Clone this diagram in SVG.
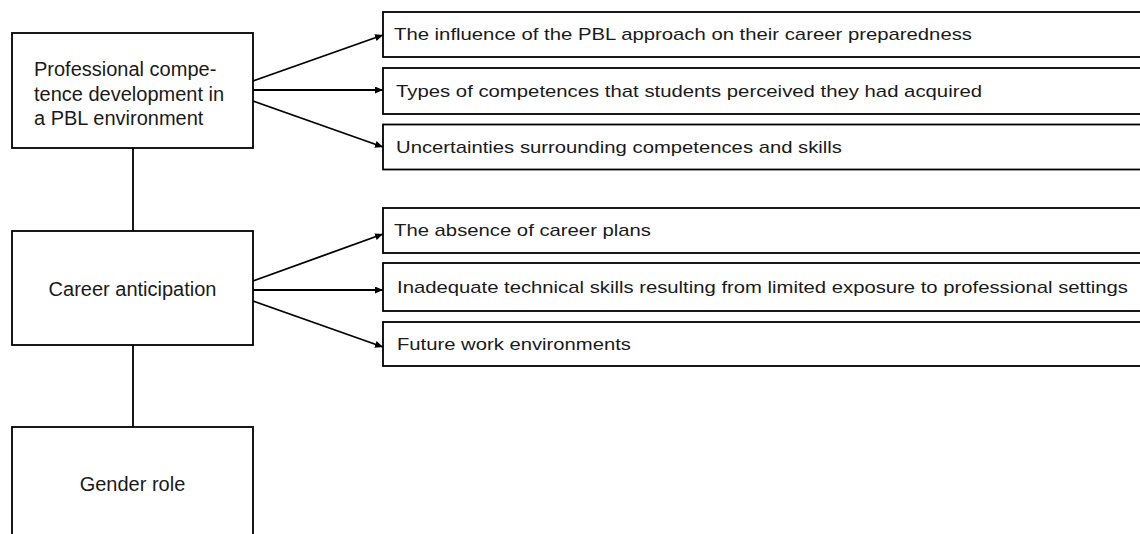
<svg xmlns="http://www.w3.org/2000/svg" width="1140" height="534" viewBox="0 0 1140 534">
  <style>
    .box { fill: #ffffff; stroke: #000000; stroke-width: 1.8; }
    .main { font-family: "Liberation Sans", Arial, sans-serif; font-size: 20px; fill: #1a1a1a; }
    .item { font-family: "Liberation Sans", Arial, sans-serif; font-size: 17px; fill: #1a1a1a; }
    .link { stroke: #000000; stroke-width: 1.8; fill: none; }
    .arrow { stroke: #000000; stroke-width: 1.8; fill: none; marker-end: url(#head); }
  </style>
  <defs>
    <marker id="head" markerUnits="userSpaceOnUse" markerWidth="9" markerHeight="7" refX="8" refY="3.5" orient="auto">
      <path d="M0,0 L8,3.5 L0,7 z" fill="#000000"/>
    </marker>
  </defs>

  <!-- connectors -->
  <g id="connectors">
    <line class="link" x1="133" y1="148" x2="133" y2="231"/>
    <line class="link" x1="133" y1="345" x2="133" y2="427"/>
    <line class="arrow" x1="253" y1="81" x2="383" y2="35"/>
    <line class="arrow" x1="253" y1="90" x2="383" y2="90"/>
    <line class="arrow" x1="253" y1="101" x2="383" y2="147"/>
    <line class="arrow" x1="253" y1="281" x2="383" y2="234"/>
    <line class="arrow" x1="253" y1="290" x2="383" y2="290"/>
    <line class="arrow" x1="253" y1="301" x2="383" y2="347"/>
  </g>

  <!-- main themes -->
  <g id="competence">
    <rect class="box" x="12" y="33" width="241" height="115"/>
    <text class="main" x="34" y="76">Professional compe-</text>
    <text class="main" x="34" y="100.5">tence development in</text>
    <text class="main" x="34" y="125">a PBL environment</text>
  </g>
  <g id="career">
    <rect class="box" x="12" y="231" width="241" height="114"/>
    <text class="main" x="132.5" y="296" text-anchor="middle">Career anticipation</text>
  </g>
  <g id="gender">
    <rect class="box" x="12" y="427" width="241" height="130"/>
    <text class="main" x="132.5" y="491" text-anchor="middle">Gender role</text>
  </g>

  <!-- sub-themes -->
  <g id="influence">
    <rect class="box" x="383" y="12" width="800" height="45"/>
    <text class="item" x="394" y="40" textLength="578" lengthAdjust="spacingAndGlyphs">The influence of the PBL approach on their career preparedness</text>
  </g>
  <g id="types">
    <rect class="box" x="383" y="68" width="800" height="46"/>
    <text class="item" x="396" y="96.5" textLength="586" lengthAdjust="spacingAndGlyphs">Types of competences that students perceived they had acquired</text>
  </g>
  <g id="uncertainties">
    <rect class="box" x="383" y="124.5" width="800" height="45"/>
    <text class="item" x="396" y="152.5" textLength="446" lengthAdjust="spacingAndGlyphs">Uncertainties surrounding competences and skills</text>
  </g>
  <g id="absence">
    <rect class="box" x="383" y="208" width="800" height="45"/>
    <text class="item" x="394" y="236" textLength="257" lengthAdjust="spacingAndGlyphs">The absence of career plans</text>
  </g>
  <g id="skills">
    <rect class="box" x="383" y="263" width="800" height="48"/>
    <text class="item" x="397" y="293" textLength="731" lengthAdjust="spacingAndGlyphs">Inadequate technical skills resulting from limited exposure to professional settings</text>
  </g>
  <g id="environments">
    <rect class="box" x="383" y="322" width="800" height="44"/>
    <text class="item" x="397" y="349.5" textLength="234" lengthAdjust="spacingAndGlyphs">Future work environments</text>
  </g>
</svg>
